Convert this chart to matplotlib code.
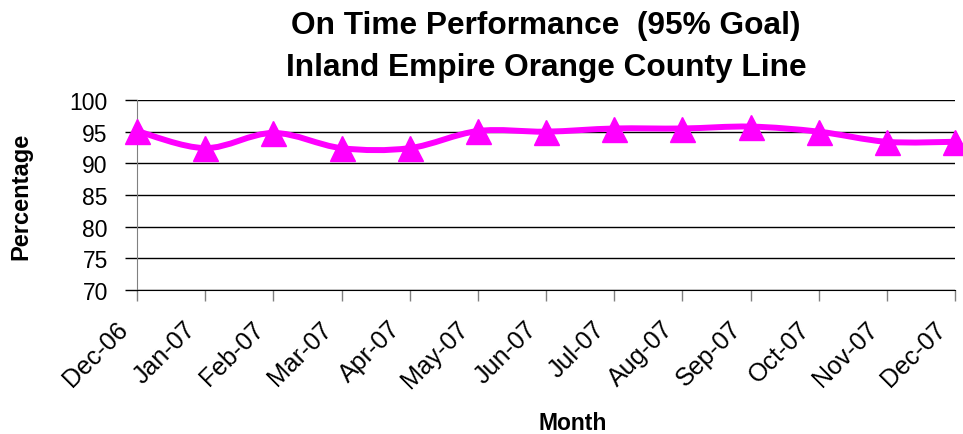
import numpy as np
import matplotlib
matplotlib.use('Agg')
import matplotlib.pyplot as plt
import matplotlib.transforms as mtransforms
from matplotlib.path import Path
from matplotlib.patches import PathPatch

plt.rcParams['font.family'] = ['Liberation Sans', 'DejaVu Sans']

months = ['Dec-06', 'Jan-07', 'Feb-07', 'Mar-07', 'Apr-07', 'May-07', 'Jun-07',
          'Jul-07', 'Aug-07', 'Sep-07', 'Oct-07', 'Nov-07', 'Dec-07']
on_time = [95.1, 92.4, 94.8, 92.4, 92.4, 95.1, 95.0, 95.5, 95.5, 95.8, 95.0, 93.4, 93.4]
y_ticks = [70, 75, 80, 85, 90, 95, 100]

pink = '#FF00FF'

fig = plt.figure(figsize=(9.63, 4.35), dpi=100)
ax = fig.add_axes([137/963, 1 - 291/435, (955 - 137)/963, (291 - 101)/435])

x = np.arange(len(months))
y = np.array(on_time)

# smoothed line like the spreadsheet one (bezier through the points)
verts = [(x[0], y[0])]
codes = [Path.MOVETO]
for i in range(len(x) - 1):
    p0 = (x[max(i - 1, 0)], y[max(i - 1, 0)])
    p1 = (x[i], y[i])
    p2 = (x[i + 1], y[i + 1])
    p3 = (x[min(i + 2, len(x) - 1)], y[min(i + 2, len(x) - 1)])
    c1 = (p1[0] + (p2[0] - p0[0]) / 6, p1[1] + (p2[1] - p0[1]) / 6)
    c2 = (p2[0] - (p3[0] - p1[0]) / 6, p2[1] - (p3[1] - p1[1]) / 6)
    verts += [c1, c2, p2]
    codes += [Path.CURVE4, Path.CURVE4, Path.CURVE4]
ax.add_patch(PathPatch(Path(verts, codes), facecolor='none', edgecolor=pink,
                       lw=4.3, capstyle='round', joinstyle='round', zorder=3))
ax.plot(x, y, linestyle='none', marker='^', markersize=18, color=pink,
        clip_on=False, zorder=4)

ax.set_xlim(0, len(months) - 1)
ax.set_ylim(70, 100)
ax.set_yticks(y_ticks)
ax.set_xticks(x)
ax.set_xticklabels(months, rotation=45, ha='right', va='center', rotation_mode='anchor')
ax.yaxis.grid(True, color='black', lw=1)
ax.set_axisbelow(True)

for s in ['top', 'right']:
    ax.spines[s].set_visible(False)
ax.spines['left'].set_color('#808080')
ax.spines['bottom'].set_color('black')
ax.tick_params(axis='y', length=9, width=1, color='black', labelsize=16.5, pad=12)
ax.tick_params(axis='x', length=8, width=1, color='#808080', labelsize=18, pad=17)

# nudge the slanted month labels to the left
shift = mtransforms.ScaledTranslation(-0.13, 0, fig.dpi_scale_trans)
for t in ax.xaxis.get_major_ticks():
    t.label1.set_transform(t.label1.get_transform() + shift)

ax.set_ylabel('Percentage', fontsize=17, fontweight='bold')
ax.yaxis.set_label_coords(-0.1284, 0.5)
ax.set_xlabel('Month', fontsize=16.5, fontweight='bold')
ax.xaxis.set_label_coords(0.533, -0.636)
fig.text(546/963, 1 - 47/435, 'On Time Performance  (95% Goal)\nInland Empire Orange County Line',
         ha='center', va='center', fontsize=22.8, fontweight='bold', linespacing=1.55)

fig.savefig('out.png', dpi=100)
